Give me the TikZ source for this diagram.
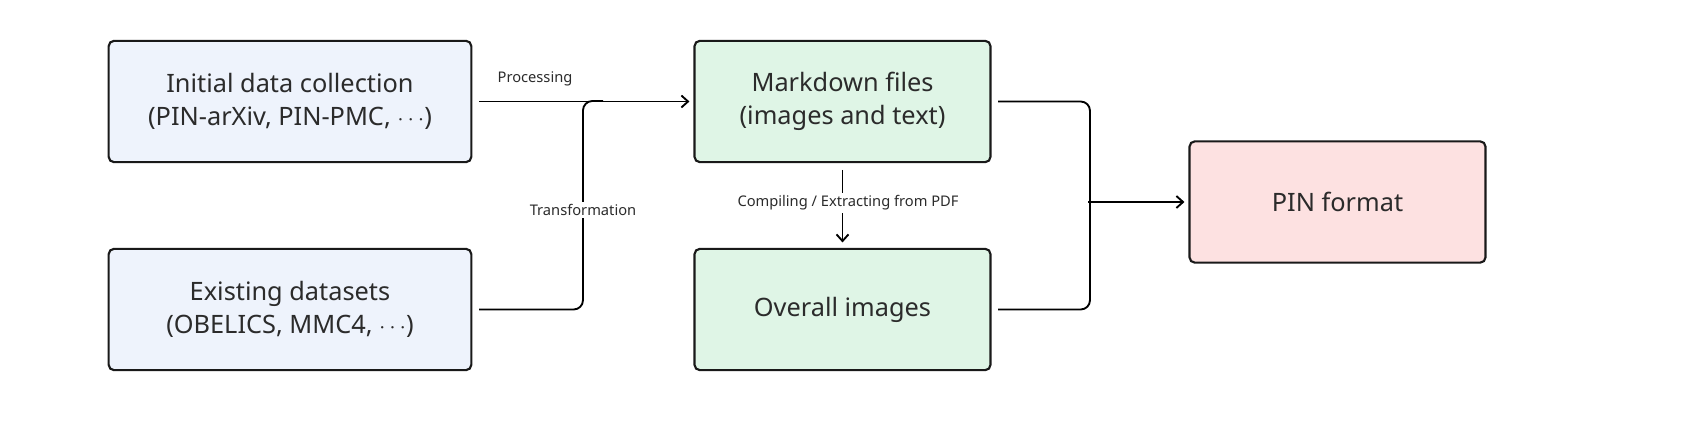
\documentclass[tikz,border=0pt]{standalone}
\usepackage{fontspec}
\setmainfont{Noto Sans}
\usetikzlibrary{arrows.meta}
\definecolor{txt}{HTML}{2B2B2B}
\definecolor{bl}{HTML}{EEF3FC}
\definecolor{gr}{HTML}{DFF5E6}
\definecolor{rd}{HTML}{FDE1E1}
\begin{document}
\begin{tikzpicture}[x=0.75pt,y=-0.75pt,
 box/.style={draw=black!90,line width=1.6pt,rounded corners=4pt,minimum width=272pt,minimum height=91pt,align=center,font=\fontsize{19}{25}\selectfont,text=txt,inner sep=0},
 gbox/.style={box,minimum width=222pt},
 lab/.style={font=\fontsize{11}{13}\selectfont,text=txt,fill=white,inner sep=2pt},
 con/.style={line width=1.4pt,rounded corners=7pt},
 arr/.style={con,-{Straight Barb[length=5pt,width=9pt]}}]
\path[use as bounding box] (0,0) rectangle (1701,445);
\node[box,fill=bl] (a) at (290,101.5) {Initial data collection\\(PIN-arXiv, PIN-PMC, $\cdots$)};
\node[box,fill=bl] (b) at (290,309.5) {Existing datasets\\(OBELICS, MMC4, $\cdots$)};
\node[gbox,fill=gr] (m) at (842.5,101.5) {Markdown files\\(images and text)};
\node[gbox,fill=gr] (o) at (842.5,309.5) {Overall images};
\node[gbox,fill=rd] (p) at (1337.5,202) {PIN format};
\coordinate (mt) at (583,101);
\draw[arr] ([xshift=5pt]a.east) -- ([xshift=-3pt]m.west);
\draw[con] ([xshift=5pt]b.east) -| (mt) -- ++(20,0);
\node[lab] at (583,210) {Transformation};
\node[lab,fill=none] at (535,79) {Processing};
\draw[arr] ([yshift=-5pt]m.south) -- ([yshift=4pt]o.north);
\node[lab] at (848,203) {Compiling / Extracting from PDF};
\coordinate (j) at (1090,202);
\draw[con] ([xshift=5pt]m.east) -| (j);
\draw[con] ([xshift=5pt]o.east) -| (j);
\draw[arr] (1088,202) -- ([xshift=-3pt]p.west);
\end{tikzpicture}
\end{document}
